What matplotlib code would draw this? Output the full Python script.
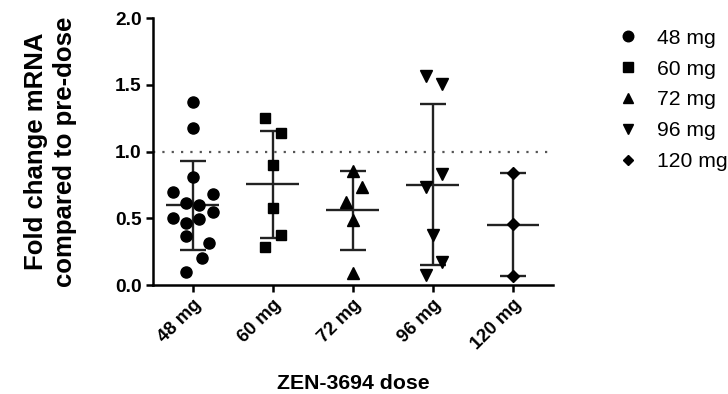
import numpy as np
import matplotlib
matplotlib.use("Agg")
import matplotlib.pyplot as plt
from matplotlib.lines import Line2D

plt.rcParams['font.family'] = ['Liberation Sans', 'DejaVu Sans']

# ---- data ----
categories = ["48 mg", "60 mg", "72 mg", "96 mg", "120 mg"]
values_48 = [1.373, 1.174, 0.811, 0.694, 0.682, 0.612, 0.599, 0.544, 0.504,
             0.492, 0.467, 0.367, 0.312, 0.205, 0.100]
values_60 = [1.249, 1.136, 0.899, 0.574, 0.375, 0.287]
values_72 = [0.856, 0.732, 0.624, 0.487, 0.092]
values_96 = [1.566, 1.506, 0.831, 0.732, 0.375, 0.175, 0.075]
values_120 = [0.837, 0.455, 0.067]
reference_level = 1.0
yticks = [0.0, 0.5, 1.0, 1.5, 2.0]

# ---- layout (scatter jitter, in category units) ----
jitter_48 = [0.0, 0.0, 0.0, -0.25, 0.25, -0.08, 0.08, 0.25, -0.25,
             0.08, -0.08, -0.09, 0.20, 0.11, -0.09]
jitter_60 = [-0.10, 0.10, 0.0, 0.0, 0.10, -0.10]
jitter_72 = [0.0, 0.11, -0.09, 0.0, 0.0]
jitter_96 = [-0.09, 0.11, 0.11, -0.09, 0.0, 0.11, -0.09]
jitter_120 = [0.0, 0.0, 0.0]

groups = [values_48, values_60, values_72, values_96, values_120]
jitters = [jitter_48, jitter_60, jitter_72, jitter_96, jitter_120]
markers = ['o', 's', '^', 'v', 'D']
msizes = [8.0, 7.2, 8.0, 8.0, 5.8]

fig = plt.figure(figsize=(7.28, 3.94), dpi=100)
ax = fig.add_axes([0.2098, 0.2766, 0.5498, 0.6777])

ax.axhline(reference_level, color='#555555', linestyle=(0, (1, 3.2)), linewidth=1.6, zorder=1)

handles = []
for i, (vals, jit, m, ms) in enumerate(zip(groups, jitters, markers, msizes)):
    vals = np.asarray(vals)
    mean = vals.mean()
    sd = vals.std(ddof=1)
    x = i + np.asarray(jit)
    # SD bar
    ax.plot([i, i], [mean - sd, mean + sd], color='#222222', lw=1.7, zorder=2, solid_capstyle='butt')
    for yy in (mean - sd, mean + sd):
        ax.plot([i - 0.165, i + 0.165], [yy, yy], color='#222222', lw=1.7, zorder=2, solid_capstyle='butt')
    ax.plot([i - 0.33, i + 0.33], [mean, mean], color='#222222', lw=1.7, zorder=2, solid_capstyle='butt')
    ax.plot(x, vals, linestyle='none', marker=m, markersize=ms, color='black', zorder=3, clip_on=False)
    handles.append(Line2D([], [], linestyle='none', marker=m, markersize=ms * 0.95, color='black', label=categories[i]))

ax.set_xlim(-0.5, 4.5)
ax.set_ylim(0, 2.0)
ax.set_yticks(yticks)
ax.set_yticklabels([f"{t:.1f}" for t in yticks], fontweight='bold', fontsize=13.8)
ax.set_xticks(range(len(categories)))
ax.set_xticklabels(categories, rotation=45, ha='right', rotation_mode='anchor', fontweight='bold', fontsize=13.3)

for s in ('top', 'right'):
    ax.spines[s].set_visible(False)
for s in ('left', 'bottom'):
    ax.spines[s].set_linewidth(1.8)
ax.tick_params(width=1.8, length=5, direction='out', pad=3)

ax.set_ylabel("Fold change mRNA\ncompared to pre-dose", fontweight='bold', fontsize=18.5, labelpad=27, linespacing=1.28)
ax.set_xlabel("ZEN-3694 dose", fontweight='bold', fontsize=15.3, labelpad=15)

leg = fig.legend(handles=handles, loc='upper left', bbox_to_anchor=(0.848, 0.927), frameon=False,
                 fontsize=15.2, handlelength=1.0, handletextpad=0.9, labelspacing=0.56, borderaxespad=0,
                 borderpad=0)

fig.savefig("out.png", dpi=100)
